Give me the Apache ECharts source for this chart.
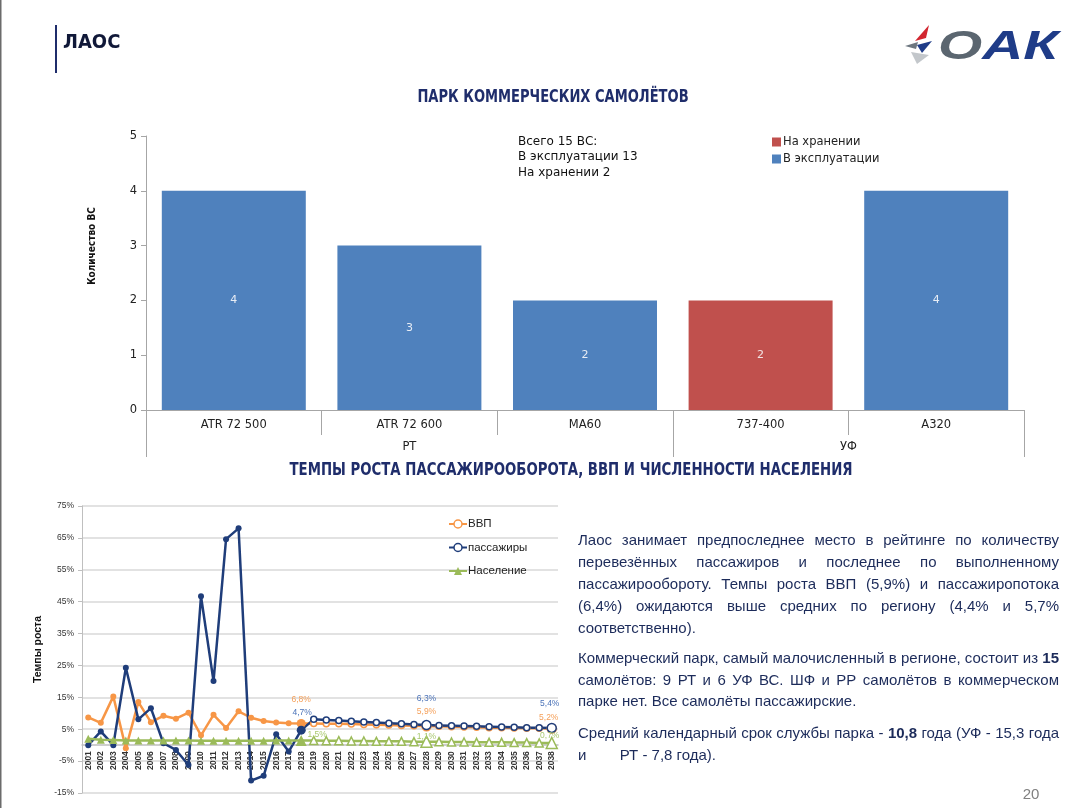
<!DOCTYPE html>
<html><head><meta charset="utf-8">
<script src="https://cdn.jsdelivr.net/npm/echarts@6/dist/echarts.min.js"></script>
<style>
html,body{margin:0;padding:0;background:#fff;}
#chart{position:absolute;left:0;top:0;width:1081px;height:808px;}
.para{position:absolute;left:578px;width:481px;font-family:"Liberation Sans",Arial,sans-serif;font-size:15px;color:#1c2b5a;line-height:22px;}
.j{text-align:justify;text-align-last:justify;}
.l{text-align:left;white-space:pre;}
</style>
</head><body>
<div id="chart"></div>
<div class="para" style="top:529px">
<div class="j">Лаос занимает предпоследнее место в рейтинге по количеству</div>
<div class="j">перевезённых пассажиров и последнее по выполненному</div>
<div class="j">пассажирообороту. Темпы роста ВВП (5,9%) и пассажиропотока</div>
<div class="j">(6,4%) ожидаются выше средних по региону (4,4% и 5,7%</div>
<div class="l">соответственно).</div>
</div>
<div class="para" style="top:647px;line-height:21.5px">
<div class="j">Коммерческий парк, самый малочисленный в регионе, состоит из <b>15</b></div>
<div class="j">самолётов: 9 РТ и 6 УФ ВС. ШФ и РР самолётов в коммерческом</div>
<div class="l">парке нет. Все самолёты пассажирские.</div>
</div>
<div class="para" style="top:722px;line-height:21.5px">
<div class="j">Средний календарный срок службы парка - <b>10,8</b> года (УФ - 15,3 года</div>
<div class="l">и        РТ - 7,8 года).</div>
</div>
<script>
// ---- Bar chart data ----
const barCategories = ['ATR 72 500', 'ATR 72 600', 'MA60', '737-400', 'A320'];
const groupLabels = ['РТ', 'УФ'];
const groupSpans = [3, 2];
const inService = [4, 3, 2, null, 4];
const inStorage = [null, null, null, 2, null];
const fleetNote = ['Всего 15 ВС:', 'В эксплуатации 13', 'На хранении 2'];

// ---- Line chart data ----
const years = ['2001','2002','2003','2004','2005','2006','2007','2008','2009','2010',
  '2011','2012','2013','2014','2015','2016','2017','2018','2019','2020',
  '2021','2022','2023','2024','2025','2026','2027','2028','2029','2030',
  '2031','2032','2033','2034','2035','2036','2037','2038'];
const gdp = [8.7, 7.0, 15.3, -1.0, 13.5, 7.2, 9.2, 8.3, 10.2, 3.1, 9.5, 5.4, 10.6, 8.6, 7.6, 7.1, 6.9, 6.8,
  6.8, 6.7, 6.7, 6.6, 6.5, 6.4, 6.3, 6.2, 6.1, 5.9, 5.9, 5.8, 5.7, 5.6, 5.5, 5.5, 5.4, 5.3, 5.3, 5.2];
const passengers = [0.0, 4.3, 0.0, 24.3, 8.1, 11.6, 0.6, -1.5, -6.2, 46.7, 20.1, 64.6, 68.0, -11.1, -9.6, 3.4, -2.0, 4.7,
  8.1, 7.9, 7.7, 7.5, 7.3, 7.1, 6.9, 6.7, 6.5, 6.3, 6.2, 6.1, 6.0, 5.9, 5.8, 5.7, 5.6, 5.5, 5.5, 5.4];
const population = [2.0, 1.7, 1.6, 1.5, 1.5, 1.5, 1.5, 1.5, 1.5, 1.4, 1.4, 1.4, 1.4, 1.4, 1.4, 1.5, 1.5, 1.5,
  1.5, 1.4, 1.4, 1.3, 1.3, 1.2, 1.2, 1.2, 1.1, 1.1, 1.1, 1.0, 1.0, 0.9, 0.9, 0.9, 0.8, 0.8, 0.7, 0.7];
const firstForecastYear = '2019';
const labelYears = ['2018', '2028', '2038'];
const yMin = -15, yMax = 75, yStep = 10;

// ---- styles ----
const C_BLUE = '#4F81BD', C_RED = '#C0504D';
const C_GDP = '#F79646', C_PAX = '#1F3D7A', C_POP = '#9BBB59';
const NARROW = '"Liberation Sans Narrow","DejaVu Sans Condensed","Liberation Sans",sans-serif';

const fmt = v => v.toFixed(1).replace('.', ',') + '%';
const fcIdx = years.indexOf(firstForecastYear);

function buildLine(vals, color, labelColor, offsets, bigSize) {
  return vals.map((v, i) => {
    const o = { value: v };
    if (i >= fcIdx) o.itemStyle = { color: '#fff', borderColor: color, borderWidth: 1.5 };
    const li = labelYears.indexOf(years[i]);
    if (li >= 0) {
      o.symbolSize = bigSize;
      o.label = { show: true, position: 'inside', offset: offsets[li], formatter: p => fmt(p.value),
        color: labelColor, fontSize: 8.5, fontFamily: 'Liberation Sans' };
    }
    return o;
  });
}

// group boundaries / centres for second-level bar axis
const bounds = [0]; groupSpans.forEach(s => bounds.push(bounds[bounds.length - 1] + s));
const centres = groupSpans.map((s, i) => bounds[i] + s / 2);

// line grid geometry (pixels) -> offset of the category axis up to the zero line
const LG_TOP = 506, LG_BOTTOM_PX = 793;
const zeroOffset = -(LG_BOTTOM_PX - LG_TOP) * (0 - yMin) / (yMax - yMin);

const chart = echarts.init(document.getElementById('chart'));
const option = {
  animation: false,
  grid: [
    { left: 146, right: 57, top: 136, bottom: 398, outerBoundsMode: 'none', containLabel: false },
    { left: 82, right: 523, top: LG_TOP, bottom: 808 - LG_BOTTOM_PX, outerBoundsMode: 'none', containLabel: false }
  ],
  legend: [
    { data: ['На хранении', 'В эксплуатации'], orient: 'vertical', left: 767, top: 131,
      itemWidth: 9, itemHeight: 9, itemGap: 5, icon: 'rect',
      textStyle: { fontSize: 11.5, color: '#222', fontFamily: 'DejaVu Sans', padding: [0, 0, 0, -3] } },
    { data: [
        { name: 'ВВП', itemStyle: { color: '#fff', borderColor: C_GDP, borderWidth: 1.5 } },
        { name: 'пассажиры', itemStyle: { color: '#fff', borderColor: C_PAX, borderWidth: 1.5 } },
        { name: 'Население' }
      ], orient: 'vertical', left: 443, top: 513, itemWidth: 18, itemHeight: 10, itemGap: 11.5,
      textStyle: { fontSize: 11.5, color: '#222', fontFamily: 'Liberation Sans', padding: [0, 0, 0, -4] } }
  ],
  xAxis: [
    { gridIndex: 0, type: 'category', data: barCategories,
      axisLine: { lineStyle: { color: '#a6a6a6' } },
      axisTick: { show: true, interval: 0, length: 25, lineStyle: { color: '#a6a6a6' } },
      axisLabel: { interval: 0, fontSize: 11.5, color: '#222', margin: 9, fontFamily: 'DejaVu Sans' } },
    { gridIndex: 0, type: 'value', position: 'bottom', offset: 24, min: 0, max: barCategories.length,
      axisLine: { show: false, onZero: false }, splitLine: { show: false },
      axisTick: { show: true, customValues: bounds, length: 23, lineStyle: { color: '#a6a6a6' } },
      axisLabel: { customValues: centres, margin: 7, fontSize: 11.5, color: '#222', fontFamily: 'DejaVu Sans',
        formatter: v => groupLabels[centres.indexOf(v)] || '' } },
    { gridIndex: 1, type: 'category', data: years, boundaryGap: true, position: 'bottom', offset: zeroOffset,
      axisLine: { onZero: false, lineStyle: { color: '#bfbfbf', width: 1.5 } },
      axisTick: { show: false },
      axisLabel: { interval: 0, rotate: 90, fontSize: 8.5, fontWeight: 'bold', color: '#333', margin: 6,
        fontFamily: 'Liberation Sans' } }
  ],
  yAxis: [
    { gridIndex: 0, type: 'value', min: 0, max: 5, interval: 1,
      axisLine: { show: true, onZero: false, lineStyle: { color: '#a6a6a6' } },
      axisTick: { show: true, length: 5, lineStyle: { color: '#a6a6a6' } },
      splitLine: { show: false },
      axisLabel: { fontSize: 11.5, color: '#222', margin: 9, fontFamily: 'DejaVu Sans' } },
    { gridIndex: 1, type: 'value', min: yMin, max: yMax, interval: yStep,
      name: 'Темпы роста', nameLocation: 'middle', nameGap: 38, nameRotate: 90,
      nameTextStyle: { fontSize: 10.5, fontWeight: 'bold', color: '#111', fontFamily: 'Liberation Sans' },
      axisLine: { show: true, lineStyle: { color: '#bfbfbf' } },
      axisTick: { show: true, length: 4, lineStyle: { color: '#bfbfbf' } },
      splitLine: { show: true, lineStyle: { color: '#d9d9d9', width: 1.5 } },
      axisLabel: { fontSize: 8.5, color: '#333', margin: 8, fontFamily: 'Liberation Sans', formatter: v => v + '%' } }
  ],
  series: [
    { name: 'В эксплуатации', type: 'bar', xAxisIndex: 0, yAxisIndex: 0, data: inService,
      barWidth: '82%', barGap: '-100%', itemStyle: { color: C_BLUE },
      label: { show: true, position: 'inside', color: '#e8edf5', fontSize: 11, fontFamily: 'DejaVu Sans' } },
    { name: 'На хранении', type: 'bar', xAxisIndex: 0, yAxisIndex: 0, data: inStorage,
      barWidth: '82%', barGap: '-100%', itemStyle: { color: C_RED },
      label: { show: true, position: 'inside', color: '#f2e4e4', fontSize: 11, fontFamily: 'DejaVu Sans' } },
    { name: 'ВВП', type: 'line', xAxisIndex: 2, yAxisIndex: 1, color: C_GDP,
      symbol: 'circle', symbolSize: 6, lineStyle: { color: C_GDP, width: 2.5 },
      data: buildLine(gdp, C_GDP, '#F5A05A', [[0, -24], [0, -15], [-3, -11]], 9) },
    { name: 'пассажиры', type: 'line', xAxisIndex: 2, yAxisIndex: 1, color: C_PAX,
      symbol: 'circle', symbolSize: 6, lineStyle: { color: C_PAX, width: 2.5 },
      data: buildLine(passengers, C_PAX, '#4A72B8', [[1, -18], [0, -26], [-2, -24]], 9) },
    { name: 'Население', type: 'line', xAxisIndex: 2, yAxisIndex: 1, color: C_POP,
      symbol: 'triangle', symbolSize: 8, lineStyle: { color: C_POP, width: 2.5 },
      data: buildLine(population, C_POP, '#A9C86E', [[16, -6], [0, -5], [-2, -7]], 11) }
  ],
  graphic: [
    { type: 'rect', shape: { x: 0, y: 0, width: 1.5, height: 808 }, style: { fill: '#6b6b6b' } },
    { type: 'line', shape: { x1: 56, y1: 25, x2: 56, y2: 73 }, style: { stroke: '#1f2d6b', lineWidth: 2 } },
    { type: 'text', x: 63, y: 43, style: { text: 'ЛАОС', fontSize: 20, fontWeight: 'bold', fontFamily: NARROW,
      fill: '#101838', verticalAlign: 'middle' } },
    { type: 'text', x: 553, y: 98, scaleX: 0.855, style: { text: 'ПАРК КОММЕРЧЕСКИХ САМОЛЁТОВ', fontSize: 17, fontWeight: 'bold',
      fontFamily: NARROW, fill: '#1f2d6b', align: 'center', verticalAlign: 'middle' } },
    { type: 'text', x: 571, y: 470, scaleX: 0.845, style: { text: 'ТЕМПЫ РОСТА ПАССАЖИРООБОРОТА, ВВП И ЧИСЛЕННОСТИ НАСЕЛЕНИЯ',
      fontSize: 17.5, fontWeight: 'bold', fontFamily: NARROW, fill: '#1f2d6b', align: 'center', verticalAlign: 'middle' } },
    { type: 'text', x: 92, y: 246, rotation: Math.PI / 2, style: { text: 'Количество ВС', fontSize: 10, fontWeight: 'bold',
      fontFamily: NARROW, fill: '#111', align: 'center', verticalAlign: 'middle' } },
    { type: 'text', x: 518, y: 134, style: { text: fleetNote.join('\n'), fontSize: 12, lineHeight: 15.5,
      fontFamily: 'DejaVu Sans', fill: '#111' } },
    { type: 'text', x: 1031, y: 795, style: { text: '20', fontSize: 15, fontFamily: 'Liberation Sans',
      fill: '#808080', align: 'center', verticalAlign: 'middle' } },
    // logo
    { type: 'polygon', shape: { points: [[929, 25], [926, 38], [915, 41]] }, style: { fill: '#d22630' } },
    { type: 'polygon', shape: { points: [[932, 41], [917, 45], [922, 53]] }, style: { fill: '#1f3c88' } },
    { type: 'polygon', shape: { points: [[905, 46], [918, 42], [916, 49]] }, style: { fill: '#6d7780' } },
    { type: 'polygon', shape: { points: [[911, 52], [929, 55], [917, 64]] }, style: { fill: '#c3c7cb' } },
    { type: 'text', x: 938, y: 48, scaleX: 1.42, style: { text: '{g|О}{b|АК}', fontFamily: 'Liberation Sans',
      verticalAlign: 'middle',
      rich: { g: { fontSize: 40, fontWeight: 'bold', fontStyle: 'italic', fill: '#5b6670', fontFamily: 'Liberation Sans' },
              b: { fontSize: 40, fontWeight: 'bold', fontStyle: 'italic', fill: '#1f3c88', fontFamily: 'Liberation Sans' } } } }
  ]
};
chart.setOption(option);
</script>
</body></html>
